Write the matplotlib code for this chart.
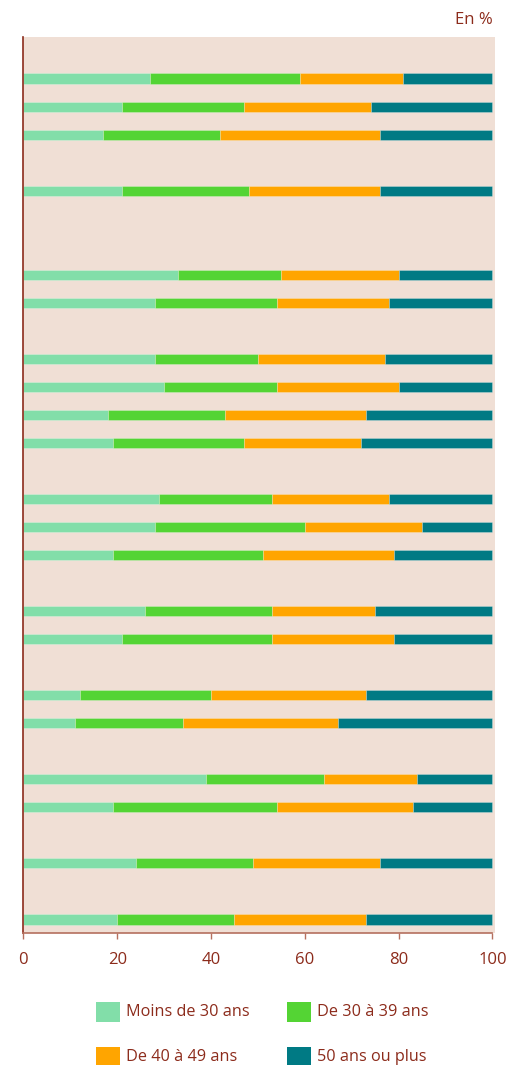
import matplotlib

matplotlib.use("Agg")
import matplotlib.pyplot as plt
from matplotlib.patches import Rectangle

plt.rcParams["font.family"] = ["Open Sans", "DejaVu Sans"]

BG = "#f0dfd5"
TEXT = "#8c2b1b"
AXIS = "#b5705f"

# age groups
labels = ["Moins de 30 ans", "De 30 à 39 ans", "De 40 à 49 ans", "50 ans ou plus"]
colors = ["#82dea9", "#54d434", "#ffa500", "#007a84"]

# row slot of each bar (empty slots separate the groups)
slots = [1, 2, 3, 5, 8, 9, 11, 12, 13, 14, 16, 17, 18, 20, 21, 23, 24, 26, 27, 29, 31]

under30 = [27, 21, 17, 21, 33, 28, 28, 30, 18, 19, 29, 28, 19, 26, 21, 12, 11, 39, 19, 24, 20]
age30_39 = [32, 26, 25, 27, 22, 26, 22, 24, 25, 28, 24, 32, 32, 27, 32, 28, 23, 25, 35, 25, 25]
age40_49 = [22, 27, 34, 28, 25, 24, 27, 26, 30, 25, 25, 25, 28, 22, 26, 33, 33, 20, 29, 27, 28]
over50 = [19, 26, 24, 24, 20, 22, 23, 20, 27, 28, 22, 15, 21, 25, 21, 27, 33, 16, 17, 24, 27]

series = [under30, age30_39, age40_49, over50]

fig = plt.figure(figsize=(5.19, 10.65), dpi=100)
ax = fig.add_axes([0.0451, 0.1239, 0.9083, 0.8414])
ax.set_facecolor(BG)

left = [0] * len(slots)
for vals, color, label in zip(series, colors, labels):
    ax.barh(slots, vals, left=left, height=0.39, color=color, label=label,
            edgecolor=(1, 1, 1, 0.35), linewidth=0.5)
    left = [a + b for a, b in zip(left, vals)]

ax.set_xlim(0, 100.5)
ax.set_ylim(31.5, -0.5)
ax.set_xticks([0, 20, 40, 60, 80, 100])
ax.set_yticks([])
ax.tick_params(axis="x", colors=AXIS, length=4.5, width=1, pad=9, labelsize=12,
               labelcolor=TEXT)
for side in ["top", "right"]:
    ax.spines[side].set_visible(False)
ax.spines["left"].set_color(TEXT)
ax.spines["left"].set_linewidth(1.2)
ax.spines["bottom"].set_color(AXIS)
ax.spines["bottom"].set_linewidth(1.2)
ax.spines["bottom"].set_bounds(0, 100)

fig.text(493 / 519, 1 - 20 / 1065, "En %", ha="right", va="center", color=TEXT, fontsize=12)

# legend, two columns
W, H = 519, 1065
pos = [(96, 1012), (287, 1012), (96, 1057), (287, 1057)]
for (px, py), color, label in zip(pos, colors, labels):
    fig.patches.append(Rectangle((px / W, 1 - (py + 10) / H), 24 / W, 20 / H,
                                 facecolor=color, edgecolor="none",
                                 transform=fig.transFigure, figure=fig))
    fig.text((px + 30) / W, 1 - py / H, label, ha="left", va="center",
             color=TEXT, fontsize=11.7)

fig.savefig("out.png", dpi=100)
